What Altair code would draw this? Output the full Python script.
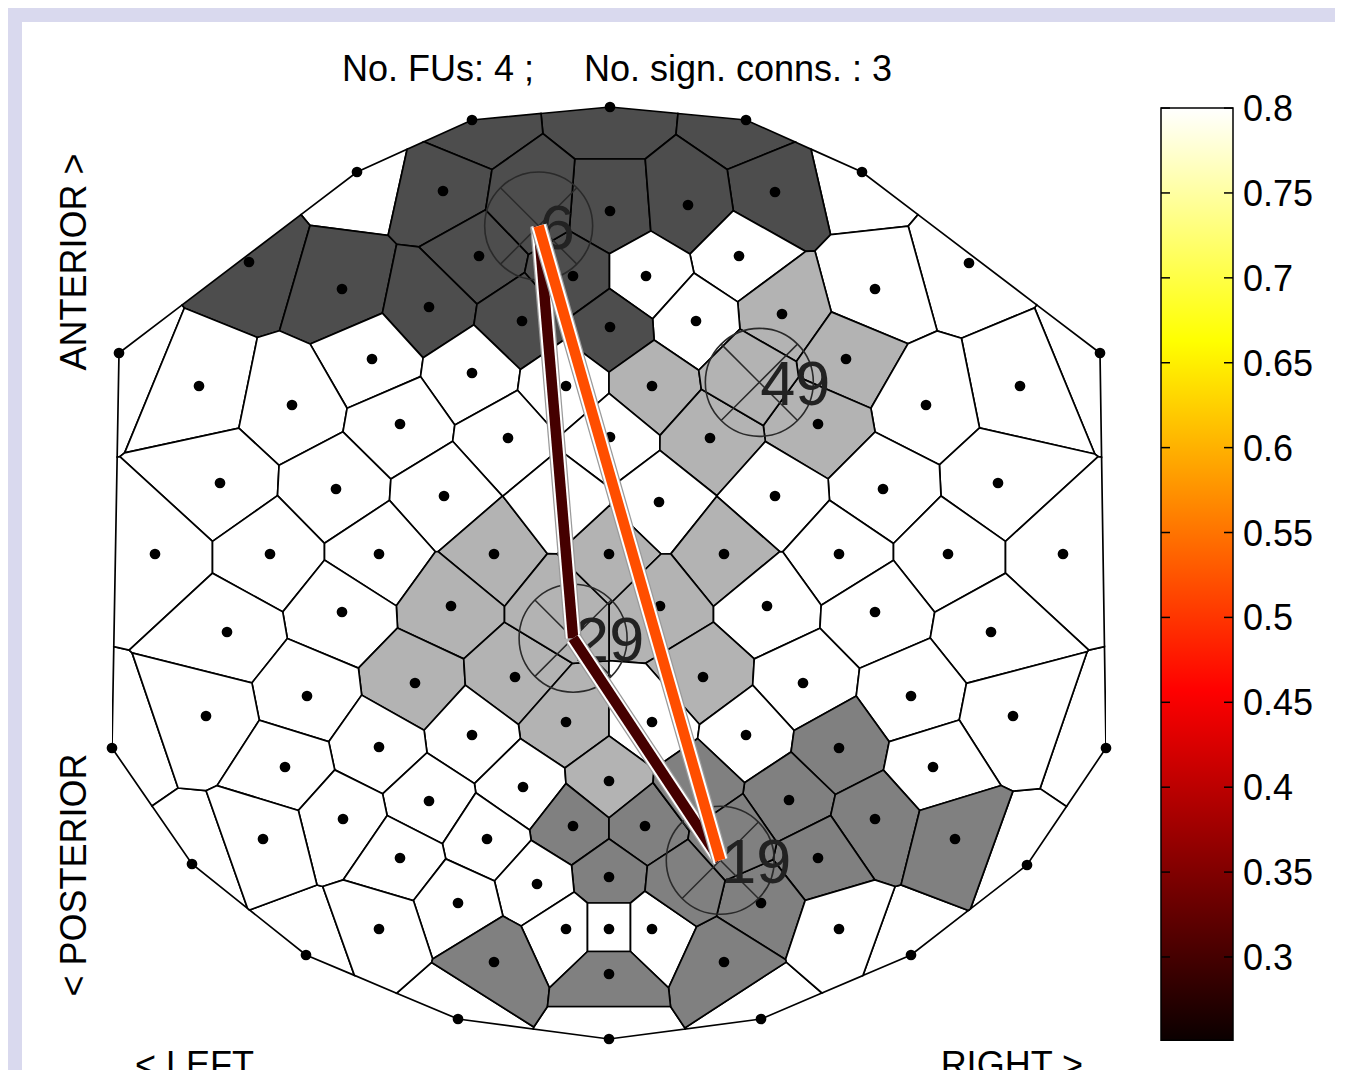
import altair as alt
import numpy as np
import pandas as pd

# ---------------- data (pixel positions, y grows downward) ----------------
# visible electrodes
ex = [610, 472, 746, 357, 862, 119, 1100, 112, 1106, 192, 1027, 306, 911, 458, 761, 609,
      443, 775, 610, 688,
      249, 479, 739, 969, 573, 646,
      342, 875, 429, 782, 522, 696, 610,
      372, 846, 472, 199, 566, 652, 1020,
      292, 926, 400, 818, 508, 610, 710,
      220, 998, 336, 883, 444, 775, 659,
      155, 270, 379, 494, 609, 724, 839, 948, 1063,
      451, 660, 767, 342, 875,
      227, 991,
      415, 515, 703, 803,
      307, 911,
      206, 1013, 566, 652,
      472, 746, 379, 839,
      285, 933, 523, 609,
      429, 789,
      343, 875, 573, 645,
      263, 487, 955,
      400, 818,
      609, 537,
      458, 761,
      379, 566, 609, 652, 839,
      494, 724, 609]
ey = [107, 120, 120, 172, 172, 353, 353, 748, 748, 864, 865, 955, 955, 1019, 1019, 1039,
      191, 192, 211, 205,
      262, 256, 256, 263, 276, 276,
      289, 289, 307, 314, 321, 321, 327,
      359, 359, 373, 386, 386, 386, 386,
      405, 405, 424, 424, 438, 437, 438,
      483, 483, 489, 489, 496, 496, 502,
      554, 554, 554, 554, 554, 554, 554, 554, 554,
      606, 606, 606, 612, 612,
      632, 632,
      683, 677, 677, 683,
      696, 696,
      716, 716, 722, 722,
      735, 735, 747, 748,
      767, 767, 787, 781,
      801, 800,
      819, 819, 826, 826,
      839, 839, 839,
      858, 858,
      877, 884,
      903, 903,
      929, 929, 929, 929, 929,
      962, 962, 974]
efu = ['6', '6', '6', 'n', 'n', 'n', 'n', 'n', 'n', 'n', 'n', 'n', 'n', 'n', 'n', 'n',
       '6', '6', '6', '6',
       '6', '6', 'n', 'n', '6', 'n',
       '6', 'n', '6', '49', '6', 'n', '6',
       'n', '49', 'n', 'n', 'n', '49', 'n',
       'n', 'n', 'n', '49', 'n', 'n', '49',
       'n', 'n', 'n', 'n', 'n', 'n', 'n',
       'n', 'n', 'n', '29', '29', '29', 'n', 'n', 'n',
       '29', '29', 'n', 'n', 'n',
       'n', 'n',
       '29', '29', '29', 'n',
       'n', 'n',
       'n', 'n', '29', 'n',
       'n', 'n', 'n', '19',
       'n', 'n', 'n', '29',
       'n', '19',
       'n', '19', '19', '19',
       'n', 'n', '19',
       'n', '19',
       '19', 'n',
       'n', '19',
       'n', 'n', 'n', 'n', 'n',
       '19', '19', '19']
# electrodes whose dots are not drawn (hidden under FU markers / connection lines)
hid_x = [532, 748, 561, 558, 697, 733, 683]
hid_y = [205, 373, 502, 606, 787, 839, 884]
hid_fu = ['6', '49', 'n', '29', '19', '19', '19']

assert len(ex) == len(ey) == len(efu)

# functional units and their cell shading
fu_ids = ['n', '6', '49', '29', '19']
fu_gray = ['#ffffff', '#4d4d4d', '#b3b3b3', '#b3b3b3', '#808080']

# significant connections between FUs and their values
conn_a = ['6', '29', '6']
conn_b = ['29', '19', '19']
conn_v = [0.30, 0.30, 0.52]

# colour bar
cb_min, cb_max = 0.251, 0.8
cb_ticks = [0.3, 0.35, 0.4, 0.45, 0.5, 0.55, 0.6, 0.65, 0.7, 0.75, 0.8]
hot_pos = [0.0, 0.375, 0.75, 1.0]
hot_col = ['#0b0000', '#ff0000', '#ffff00', '#ffffff']

title_txt = "No. FUs: 4 ;\u00a0\u00a0\u00a0\u00a0\u00a0No. sign. conns. : 3"
FONT = "Liberation Sans, Arial, Helvetica, sans-serif"

# ---------------- tables ----------------
elec = pd.DataFrame({'x': ex + hid_x, 'y': ey + hid_y, 'fu': efu + hid_fu,
                     'shown': [1] * len(ex) + [0] * len(hid_x)})
dots = elec[elec.shown == 1]

fu_cent = (elec[elec.fu != 'n'].groupby('fu')[['x', 'y']].mean().reset_index())

# Voronoi cells clipped to the convex hull of the electrodes
P = elec[['x', 'y']].to_numpy(float)


def convex_hull(pts):
    pts = sorted(map(tuple, pts))

    def cross(o, a, b):
        return (a[0] - o[0]) * (b[1] - o[1]) - (a[1] - o[1]) * (b[0] - o[0])
    lower, upper = [], []
    for p in pts:
        while len(lower) >= 2 and cross(lower[-2], lower[-1], p) <= 0:
            lower.pop()
        lower.append(p)
    for p in reversed(pts):
        while len(upper) >= 2 and cross(upper[-2], upper[-1], p) <= 0:
            upper.pop()
        upper.append(p)
    return [np.array(v) for v in lower[:-1] + upper[:-1]]


hull = convex_hull(P)
features = []
for i, p in enumerate(P):
    poly = list(hull)
    for j, q in enumerate(P):
        if i == j:
            continue
        n = q - p
        c = n.dot((p + q) / 2)
        new = []
        for k in range(len(poly)):
            a, b = poly[k], poly[(k + 1) % len(poly)]
            da, db = a.dot(n) - c, b.dot(n) - c
            if da <= 0:
                new.append(a)
            if (da < 0 < db) or (db < 0 < da):
                t = da / (da - db)
                new.append(a + t * (b - a))
        poly = new
        if len(poly) < 3:
            break
    if len(poly) < 3:
        continue
    ring = [[round(float(v[0]), 2), round(float(v[1]), 2)] for v in poly]
    ring.append(ring[0])
    features.append({"type": "Feature", "properties": {"fu": elec.fu.iloc[i]},
                     "geometry": {"type": "Polygon", "coordinates": [ring]}})

cent = fu_cent.set_index('fu')
conn_rows = []
for k, (a, b, v) in enumerate(zip(conn_a, conn_b, conn_v)):
    for o, f in enumerate([a, b]):
        conn_rows.append({'conn': k, 'ord': o, 'x': cent.loc[f, 'x'], 'y': cent.loc[f, 'y'], 'val': v})
conns = pd.DataFrame(conn_rows)

# ---------------- scales / axes ----------------
W, H = 994, 935
xs = alt.Scale(domain=[112, 1106], nice=False, zero=False)
ys = alt.Scale(domain=[105, 1040], nice=False, zero=False, reverse=True)
ax = alt.Axis(title=None, labels=False, ticks=False, grid=False,
              domainColor='black', domainWidth=1.5)


def X(f):
    return alt.X(f, type='quantitative', scale=xs, axis=ax)


def Y(f):
    return alt.Y(f, type='quantitative', scale=ys, axis=ax)


span = cb_max - cb_min
col_scale = alt.Scale(domain=[cb_min + p * span for p in hot_pos], range=hot_col,
                      interpolate='rgb')

one = pd.DataFrame({'a': [1]})

panel = alt.Chart(one).mark_rect(color='white').encode(
    x=alt.value(-90), x2=alt.value(1400), y=alt.value(-83), y2=alt.value(1100))

cells = alt.Chart(alt.Data(values=features)).mark_geoshape(
    stroke='black', strokeWidth=1.7, strokeJoin='miter').encode(
    fill=alt.Fill('properties.fu:N', scale=alt.Scale(domain=fu_ids, range=fu_gray), legend=None)
).project(type='identity', scale=1, translate=[-112, -105])

dot_layer = alt.Chart(dots).mark_circle(size=115, color='black', opacity=1).encode(
    x=X('x'), y=Y('y'))

circ = alt.Chart(fu_cent).mark_point(shape='circle', size=11664, filled=False,
                                     stroke='#2a2a2a', strokeWidth=1.6, opacity=1).encode(
    x=X('x'), y=Y('y'))
xmark = alt.Chart(fu_cent).mark_point(
    shape='M-0.7071,-0.7071L0.7071,0.7071M-0.7071,0.7071L0.7071,-0.7071',
    size=11664, filled=False, stroke='#2a2a2a', strokeWidth=1.5, opacity=1).encode(
    x=X('x'), y=Y('y'))
fu_txt = alt.Chart(fu_cent).mark_text(align='left', baseline='middle', dx=1, dy=4,
                                      fontSize=63, font=FONT, color='#222222').encode(
    x=X('x'), y=Y('y'), text='fu:N')

line_layers = []
for k in range(len(conn_v)):
    base = alt.Chart(conns).transform_filter(alt.datum.conn == k)
    enc = dict(x=X('x'), y=Y('y'), order=alt.Order('ord:Q'), detail='conn:N')
    line_layers.append(base.mark_line(color='#9a9a9a', strokeWidth=17, strokeCap='butt').encode(**enc))
    line_layers.append(base.mark_line(color='white', strokeWidth=14.5, strokeCap='butt').encode(**enc))
    line_layers.append(base.mark_line(strokeWidth=10.5, strokeCap='butt').encode(
        color=alt.Color('val:Q', scale=col_scale, legend=None), **enc))


def label(txt, x, y, angle=0, align='center', baseline='middle'):
    return alt.Chart(one).mark_text(text=txt, fontSize=36, font=FONT, color='black',
                                    angle=angle, align=align, baseline=baseline).encode(
        x=alt.value(x), y=alt.value(y))


labels = [
    label(title_txt, 505, -24, baseline='alphabetic'),
    label("ANTERIOR >", -37, 157, angle=270),
    label("< POSTERIOR", -37, 770, angle=270),
    label("< LEFT", 23, 972, align='left', baseline='alphabetic'),
    label("RIGHT >", 971, 972, align='right', baseline='alphabetic'),
]

main = alt.layer(panel, cells, dot_layer, circ, xmark, fu_txt, *line_layers, *labels)

# ---------------- colour bar ----------------
cb_scale = alt.Scale(domain=[0.2511, 0.8018], nice=False, zero=False)
cb_tbl = pd.DataFrame({'lo': [cb_min], 'hi': [cb_max]})
tick_tbl = pd.DataFrame({'v': cb_ticks})
grad = alt.LinearGradient(gradient='linear', x1=0, x2=0, y1=1, y2=0,
                          stops=[alt.GradientStop(offset=p, color=c) for p, c in zip(hot_pos, hot_col)])
cb_rect = alt.Chart(cb_tbl).mark_rect(fill=grad, stroke='black', strokeWidth=1.5).encode(
    y=alt.Y('lo:Q', scale=cb_scale, axis=None), y2='hi:Q',
    x=alt.value(1049), x2=alt.value(1121))
cb_tl = alt.Chart(tick_tbl).mark_rule(color='black', strokeWidth=1.5).encode(
    y=alt.Y('v:Q', scale=cb_scale, axis=None), x=alt.value(1049), x2=alt.value(1058))
cb_tr = alt.Chart(tick_tbl).mark_rule(color='black', strokeWidth=1.5).encode(
    y=alt.Y('v:Q', scale=cb_scale, axis=None), x=alt.value(1112), x2=alt.value(1121))
cb_lab = alt.Chart(tick_tbl).mark_text(align='left', baseline='middle', dy=2, fontSize=36,
                                       font=FONT, color='black').encode(
    y=alt.Y('v:Q', scale=cb_scale, axis=None), x=alt.value(1131),
    text=alt.Text('v:Q', format='.2~f'))
cbar = alt.layer(cb_rect, cb_tl, cb_tr, cb_lab)

chart = alt.layer(main, cbar).resolve_scale(y='independent').properties(
    width=W, height=H,
    padding={'left': 104, 'top': 97, 'right': 229, 'bottom': 30},
    autosize=alt.AutoSizeParams(type='none'),
    background='#d9d9ee',
).configure_view(stroke=None)

chart.save("out.html", embed_options={"renderer": "svg", "actions": False})
